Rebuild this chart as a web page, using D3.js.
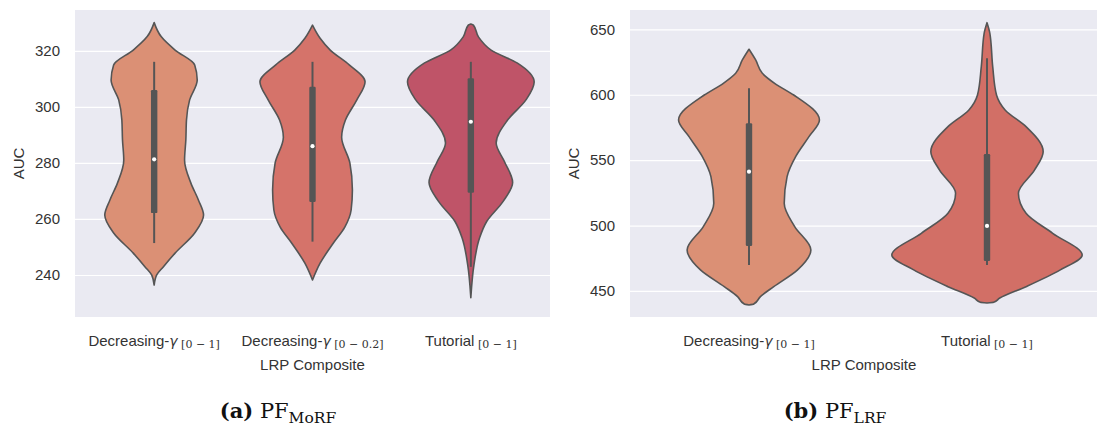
<!DOCTYPE html>
<html>
<head>
<meta charset="utf-8">
<script src="https://cdn.jsdelivr.net/npm/d3@7"></script>
<style>
  body { margin: 0; background: #fff; }
  text { font-family: "Liberation Sans", Arial, sans-serif; fill: #333; }
  text.caption { font-family: "DejaVu Serif", "Liberation Serif", serif; fill: #111; }
</style>
</head>
<body>
<svg id="fig" width="1097" height="432"></svg>
<script>
// ---- Panel (a): PF_MoRF ----------------------------------------------
const morfNames  = ["Decreasing-γ", "Decreasing-γ", "Tutorial"];
const morfRanges = ["[0 − 1]", "[0 − 0.2]", "[0 − 1]"];
const morfTicks  = [240, 260, 280, 300, 320];
const morfColors = ["#DB9075", "#D5736A", "#BF5468"];

// density profiles: [AUC, relative density]
const morfDecGamma01 = [
  [330.1, 0], [325.1, 0.11], [320.3, 0.33], [315.0, 0.64], [309.6, 0.68],
  [302.5, 0.56], [295.3, 0.51], [288.2, 0.50], [281.0, 0.48], [272.8, 0.58],
  [266.7, 0.70], [261.4, 0.78], [255.0, 0.64], [247.8, 0.33], [242.8, 0.14],
  [240.0, 0.04], [236.4, 0]
];
const morfDecGamma02 = [
  [329.2, 0], [324.5, 0.12], [320.3, 0.28], [315.0, 0.58], [309.0, 0.83],
  [302.5, 0.70], [295.3, 0.52], [289.2, 0.46], [280.0, 0.59], [270.3, 0.63],
  [263.2, 0.61], [257.1, 0.51], [251.4, 0.33], [244.2, 0.12], [238.2, 0]
];
const morfTutorial01 = [
  [329.6, 0], [329.2, 0.04], [325.0, 0.12], [320.3, 0.32], [315.7, 0.73],
  [308.9, 1.00], [302.5, 0.87], [295.3, 0.58], [287.1, 0.40], [280.5, 0.53],
  [273.0, 0.66], [266.3, 0.51], [259.1, 0.25], [253.4, 0.14], [243.7, 0.05],
  [231.9, 0]
];
// box summaries: [lower whisker, Q1, median, Q3, upper whisker]
const morfBoxes = [
  [251.4, 262.1, 281.3, 306.0, 316.1],
  [251.9, 266.1, 286.0, 307.2, 316.1],
  [242.9, 269.4, 294.7, 310.2, 316.1]
];

// ---- Panel (b): PF_LRF -----------------------------------------------
const lrfNames  = ["Decreasing-γ", "Tutorial"];
const lrfRanges = ["[0 − 1]", "[0 − 1]"];
const lrfTicks  = [450, 500, 550, 600, 650];
const lrfColors = ["#DB9075", "#D26F66"];

const lrfDecGamma01 = [
  [634.8, 0], [626.6, 0.07], [616.4, 0.14], [608.2, 0.28], [599.8, 0.47],
  [580.7, 0.74], [568.0, 0.63], [552.7, 0.49], [537.4, 0.40], [517.1, 0.37],
  [499.2, 0.48], [481.4, 0.65], [466.1, 0.51], [453.3, 0.26], [445.7, 0.12],
  [440.0, 0.05], [439.3, 0]
];
const lrfTutorial01 = [
  [655.1, 0], [647.0, 0.03], [621.5, 0.06], [599.8, 0.10], [588.4, 0.19],
  [575.6, 0.41], [556.5, 0.59], [542.5, 0.50], [524.7, 0.33], [509.4, 0.41],
  [494.1, 0.69], [477.5, 1.00], [466.1, 0.77], [453.3, 0.41], [444.4, 0.13],
  [441.3, 0.07], [440.8, 0]
];
const lrfBoxes = [
  [469.9, 484.4, 541.2, 578.2, 605.0],
  [469.9, 473.0, 499.7, 554.7, 627.9]
];

const svg = d3.select("#fig");
const lineColor = "#555555";

function drawPanel(cfg) {
  const g = svg.append("g");
  const cats = cfg.names.map((n, i) => i);
  const x = d3.scaleBand().domain(cats).range([cfg.left, cfg.right]);
  const y = d3.scaleLinear().domain(cfg.yDomain).range([cfg.bottom, cfg.top]);
  const bw = x.bandwidth();
  const w = d3.scaleLinear().domain([0, 1]).range([0, bw * 0.4]);

  // background
  g.append("rect")
    .attr("x", cfg.left).attr("y", cfg.top)
    .attr("width", cfg.right - cfg.left).attr("height", cfg.bottom - cfg.top)
    .attr("fill", "#EAEAF2");

  // grid + tick labels
  const ax = g.append("g")
    .attr("transform", `translate(${cfg.left},0)`)
    .call(d3.axisLeft(y).tickValues(cfg.ticks).tickSize(-(cfg.right - cfg.left)).tickPadding(15));
  ax.select(".domain").remove();
  ax.selectAll(".tick line").attr("stroke", "#fff").attr("stroke-width", 1.2);
  ax.selectAll(".tick text")
    .attr("font-family", "Liberation Sans, Arial, sans-serif")
    .attr("font-size", 15).attr("fill", "#333");

  // violins
  cfg.profiles.forEach((prof, i) => {
    const cx = x(i) + bw / 2;
    const area = d3.area()
      .curve(d3.curveMonotoneY)
      .y(d => y(d[0]))
      .x0(d => cx - w(d[1]))
      .x1(d => cx + w(d[1]));
    g.append("path")
      .datum(prof)
      .attr("d", area)
      .attr("fill", cfg.colors[i])
      .attr("stroke", lineColor)
      .attr("stroke-width", 1.6)
      .attr("stroke-linejoin", "round");

    const b = cfg.boxes[i];
    g.append("line")
      .attr("x1", cx).attr("x2", cx)
      .attr("y1", y(b[0])).attr("y2", y(b[4]))
      .attr("stroke", lineColor).attr("stroke-width", 2);
    g.append("rect")
      .attr("x", cx - 3.2).attr("width", 6.4)
      .attr("y", y(b[3])).attr("height", y(b[1]) - y(b[3]))
      .attr("rx", 1.2)
      .attr("fill", lineColor);
    g.append("circle")
      .attr("cx", cx).attr("cy", y(b[2])).attr("r", 2.1)
      .attr("fill", "#fff");

    // category label with italic gamma and bracketed subscript range
    const t = g.append("text")
      .attr("x", cx).attr("y", cfg.bottom + 29)
      .attr("text-anchor", "middle")
      .attr("font-size", 15);
    const name = cfg.names[i];
    if (name.endsWith("γ")) {
      t.append("tspan").text(name.slice(0, -1));
      t.append("tspan").attr("font-style", "italic").attr("font-family", "DejaVu Sans")
        .attr("font-size", 14).text("γ");
    } else {
      t.append("tspan").text(name);
    }
    t.append("tspan").attr("font-size", 11).attr("font-family", "DejaVu Serif")
      .attr("dy", 2).text(" " + cfg.ranges[i]);
  });

  // axis titles
  g.append("text")
    .attr("transform", `translate(${cfg.yLabelX},${(cfg.top + cfg.bottom) / 2}) rotate(-90)`)
    .attr("text-anchor", "middle")
    .attr("font-size", 15)
    .text("AUC");
  g.append("text")
    .attr("x", (x(0) + x(cats.length - 1) + bw) / 2 - (cfg.labelShift || 0))
    .attr("y", cfg.bottom + 53)
    .attr("text-anchor", "middle")
    .attr("font-size", 15)
    .text("LRP Composite");

  // sub-figure caption
  const cap = g.append("text")
    .attr("class", "caption")
    .attr("x", cfg.captionX).attr("y", 418)
    .attr("text-anchor", "middle")
    .attr("font-size", 21);
  cap.append("tspan").attr("font-weight", "bold").text(cfg.captionTag);
  cap.append("tspan").text(" PF");
  cap.append("tspan").attr("font-size", 15.5).attr("dy", 5).text(cfg.captionSub);
}

drawPanel({
  left: 75, right: 550, top: 10, bottom: 317,
  yDomain: [225, 334.6], ticks: morfTicks,
  names: morfNames, ranges: morfRanges, colors: morfColors,
  profiles: [morfDecGamma01, morfDecGamma02, morfTutorial01],
  boxes: morfBoxes,
  yLabelX: 24, captionX: 278, captionTag: "(a)", captionSub: "MoRF"
});

drawPanel({
  left: 630, right: 1106, top: 10, bottom: 317,
  yDomain: [430.1, 664.8], ticks: lrfTicks,
  names: lrfNames, ranges: lrfRanges, colors: lrfColors,
  profiles: [lrfDecGamma01, lrfTutorial01],
  boxes: lrfBoxes,
  yLabelX: 579, captionX: 835, captionTag: "(b)", captionSub: "LRF",
  labelShift: 4
});
</script>
</body>
</html>
